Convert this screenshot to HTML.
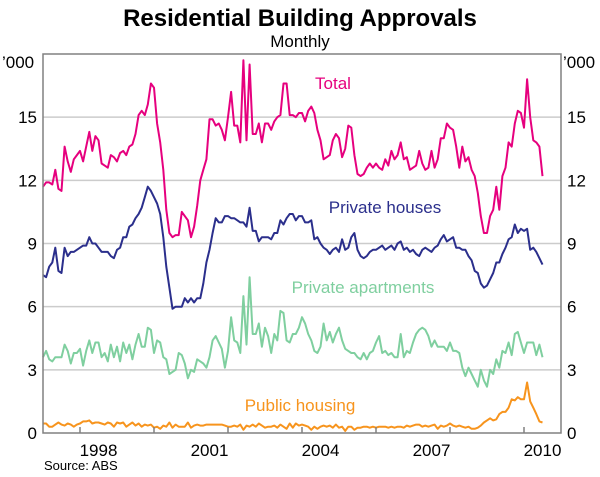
<!DOCTYPE html>
<html><head><meta charset="utf-8"><style>
body{margin:0;background:#fff;}
svg{display:block;font-family:"Liberation Sans",Arial,sans-serif;}
</style></head><body>
<svg id="chart" width="600" height="477" viewBox="0 0 600 477">
<text x="300" y="26" text-anchor="middle" font-size="24" font-weight="bold">Residential Building Approvals</text>
<text x="300" y="47" text-anchor="middle" font-size="17">Monthly</text>
<text x="2" y="68" font-size="17">’000</text>
<text x="563" y="68" font-size="17">’000</text>
<g id="grid"></g>
<g id="series"></g>
<rect x="43" y="54" width="518" height="379" fill="none" stroke="#808080" stroke-width="1.5"/>
<g id="xaxis"></g>
<text x="333" y="89" text-anchor="middle" font-size="17" fill="#e6007e">Total</text>
<text x="385" y="213" text-anchor="middle" font-size="17" fill="#2b2f8c">Private houses</text>
<text x="363" y="293" text-anchor="middle" font-size="17" fill="#7fcf9f">Private apartments</text>
<text x="300" y="411" text-anchor="middle" font-size="17" fill="#f7941d">Public housing</text>
<text x="44" y="470" font-size="13">Source: ABS</text>
</svg>
<script>
const yTicks=[0,3,6,9,12,15];
const xTickYears=[1998,2000,2002,2004,2006,2008,2010];
const xLabelYears=[1998,2001,2004,2007,2010];
const startYear=1997;
const total=[11.7,11.9,11.9,11.8,12.5,11.6,11.5,13.6,12.9,12.4,13.0,13.2,
13.4,12.9,13.6,14.3,13.4,14.1,13.9,12.8,12.7,12.6,13.2,13.1,
12.9,13.3,13.4,13.2,13.6,13.7,14.2,15.1,15.3,15.1,15.6,16.6,
16.4,14.7,13.8,12.5,10.6,9.5,9.3,9.4,9.4,10.5,10.3,10.1,
9.3,9.8,10.8,12.0,12.5,13.0,14.9,14.9,14.6,14.7,14.4,13.9,
15.0,16.2,14.6,14.6,13.8,17.7,13.9,17.5,14.2,14.2,14.7,13.8,
14.7,14.7,14.4,14.8,15.0,15.1,16.6,16.6,15.1,15.1,15.0,15.2,
15.2,14.8,15.3,15.5,15.2,14.4,13.9,13.0,13.1,13.2,13.9,14.2,
14.0,13.1,13.5,14.6,14.5,13.2,12.3,12.2,12.3,12.6,12.8,12.6,
12.8,12.6,12.5,13.0,12.7,13.4,13.0,13.2,13.8,13.0,13.1,12.5,
12.6,12.7,13.4,12.8,12.5,12.6,13.4,12.6,13.0,14.0,14.0,14.7,
14.5,14.4,13.6,12.6,13.6,12.9,13.1,12.5,12.2,11.4,10.3,9.5,
9.5,10.3,10.6,11.7,10.6,12.2,12.6,13.8,13.6,14.7,15.3,15.2,
14.5,16.8,15.0,13.9,13.8,13.6,12.2];
const houses=[7.5,7.4,7.9,8.1,8.8,7.7,7.6,8.8,8.4,8.6,8.6,8.7,
8.8,8.9,8.9,9.3,9.0,9.0,8.8,8.6,8.6,8.6,8.4,8.3,
8.7,8.8,9.3,9.3,9.8,9.9,10.2,10.4,10.7,11.2,11.7,11.5,
11.2,10.9,10.4,9.3,7.9,6.9,5.9,6.0,6.0,6.0,6.4,6.2,
6.4,6.2,6.4,6.4,7.1,8.1,8.7,9.5,10.2,10.0,10.0,10.3,
10.3,10.2,10.2,10.1,10.0,10.0,9.8,10.7,9.6,9.6,9.1,9.3,
9.3,9.3,9.2,9.5,9.5,10.1,9.9,10.2,10.4,10.4,10.1,10.3,
10.3,10.0,10.0,10.1,9.2,9.3,9.0,8.8,8.7,8.5,8.7,8.8,
8.6,9.2,8.7,8.8,9.3,9.5,8.7,8.4,8.3,8.4,8.6,8.7,
8.7,8.8,8.9,8.7,8.8,8.9,8.7,9.0,9.1,8.7,8.8,8.6,
8.7,8.5,8.4,8.7,8.8,8.7,8.6,8.8,8.9,9.2,9.4,9.1,
9.2,9.3,8.8,8.8,8.7,8.7,8.4,8.2,7.7,7.6,7.1,6.9,
7.0,7.3,7.6,8.1,8.1,8.5,8.8,9.2,9.3,9.9,9.5,9.7,
9.6,9.7,8.7,8.8,8.6,8.3,8.0];
const apartments=[3.6,3.9,3.5,3.4,3.6,3.6,3.6,4.2,3.9,3.3,3.8,3.8,
4.0,3.2,3.9,4.4,3.8,4.3,4.3,3.6,3.8,3.4,4.2,3.6,
4.1,3.4,4.3,3.8,4.2,3.5,4.2,4.7,4.1,4.1,5.0,4.9,
3.8,4.4,4.3,3.6,3.5,2.8,2.9,3.0,3.8,3.7,3.3,2.6,
3.0,2.9,3.5,3.4,3.3,3.1,3.6,4.4,4.6,4.3,4.0,3.1,
3.9,5.5,4.4,4.3,3.8,6.5,4.2,7.4,4.7,4.7,5.2,4.1,
5.0,4.6,3.8,4.7,4.4,5.8,5.7,4.4,4.3,4.7,4.7,5.0,
5.5,5.2,4.7,4.4,3.9,3.8,4.1,5.2,4.4,4.8,4.3,4.7,
5.0,4.4,4.0,3.9,3.8,3.8,3.6,3.5,3.8,3.5,3.8,3.9,
4.3,4.6,3.8,3.9,3.7,3.8,3.6,3.6,4.7,3.6,3.9,3.8,
4.3,4.7,4.9,5.0,4.9,4.6,4.1,4.4,4.1,4.1,4.1,3.9,
4.3,3.9,3.9,3.8,3.1,2.7,3.1,2.8,2.5,2.2,3.0,2.5,
2.2,3.0,2.8,3.5,3.1,3.9,3.8,4.3,3.7,4.7,4.8,4.3,
3.8,4.3,4.3,4.3,3.7,4.2,3.6];
const publicHousing=[0.45,0.45,0.3,0.3,0.4,0.5,0.4,0.35,0.45,0.4,0.3,0.4,
0.45,0.55,0.55,0.6,0.45,0.5,0.5,0.45,0.4,0.5,0.45,0.3,
0.5,0.45,0.5,0.3,0.4,0.5,0.35,0.45,0.3,0.4,0.35,0.4,
0.25,0.3,0.2,0.35,0.3,0.5,0.25,0.4,0.3,0.3,0.3,0.5,
0.25,0.35,0.4,0.35,0.35,0.4,0.4,0.4,0.4,0.4,0.4,0.35,
0.3,0.3,0.35,0.3,0.4,0.15,0.35,0.3,0.4,0.3,0.45,0.35,
0.25,0.3,0.3,0.35,0.25,0.4,0.3,0.2,0.45,0.25,0.45,0.35,
0.4,0.35,0.3,0.15,0.3,0.2,0.3,0.35,0.3,0.35,0.25,0.4,
0.25,0.3,0.1,0.3,0.3,0.15,0.25,0.25,0.3,0.3,0.25,0.3,
0.25,0.3,0.3,0.3,0.25,0.3,0.25,0.3,0.3,0.25,0.35,0.3,
0.35,0.4,0.4,0.3,0.35,0.3,0.35,0.4,0.2,0.35,0.3,0.35,
0.45,0.35,0.3,0.35,0.3,0.25,0.3,0.2,0.2,0.25,0.35,0.5,
0.6,0.7,0.6,0.65,0.9,1.0,1.0,1.2,1.6,1.55,1.7,1.6,
1.6,2.4,1.5,1.2,0.9,0.55,0.5];

const NS='http://www.w3.org/2000/svg';
const X0=43,X1=561,Y0=433,Y1=54;
function xScale(t){return X0+(t-startYear)/14*(X1-X0);}
function yScale(v){return Y0-v/18*(Y0-Y1);}
function mk(tag,attrs,parent){const e=document.createElementNS(NS,tag);for(const k in attrs)e.setAttribute(k,attrs[k]);parent.appendChild(e);return e;}
const grid=document.getElementById('grid'),ser=document.getElementById('series'),xa=document.getElementById('xaxis');
yTicks.forEach(v=>{
  const y=yScale(v);
  if(v>0){const l=mk('line',{x1:X0,x2:X1,y1:y,y2:y,stroke:'#cccccc','stroke-width':1.5},grid);
  
  }
  const a=mk('text',{x:37,y:y+6,'text-anchor':'end','font-size':17},grid);a.textContent=v;
  
  
  const b=mk('text',{x:567,y:y+6,'text-anchor':'start','font-size':17},grid);b.textContent=v;
  
  
});
xTickYears.forEach(yr=>{
  const x=xScale(yr);
  const t=mk('line',{x1:x,x2:x,y1:Y0,y2:Y0-6,stroke:'#808080','stroke-width':1.5},xa);
  
  
});
xLabelYears.forEach(yr=>{
  const t=mk('text',{x:xScale(yr+0.5),y:456,'text-anchor':'middle','font-size':17},xa);t.textContent=yr;
  
  
});
function line(arr,color,name){
  const d=arr.map((v,i)=>(i?'L':'M')+xScale(startYear+i/12).toFixed(1)+','+yScale(v).toFixed(1)).join('');
  const p=mk('path',{d:d,fill:'none',stroke:color,'stroke-width':2,'stroke-linejoin':'round'},ser);
  
  
}
line(publicHousing,'#f7941d','public-housing-line');
line(apartments,'#7fcf9f','private-apartments-line');
line(houses,'#2b2f8c','private-houses-line');
line(total,'#e6007e','total-line');
</script>
</body></html>
